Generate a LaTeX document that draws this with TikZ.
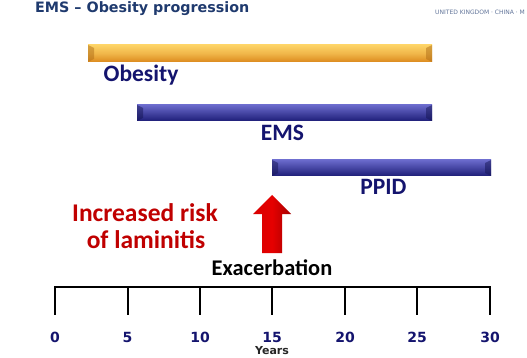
\documentclass[tikz,border=0pt]{standalone}
\usepackage{fontspec}
\setmainfont{Carlito}
\newfontfamily\tah{DejaVu Sans}
\usetikzlibrary{calc}
\definecolor{navy}{HTML}{14146E}
\definecolor{titleblue}{HTML}{1F3A6E}
\definecolor{darkred}{HTML}{C00000}
\definecolor{otop}{HTML}{FDD366}
\definecolor{obot}{HTML}{DC8A1E}
\definecolor{btop}{HTML}{6A6ACB}
\definecolor{bbot}{HTML}{1E1E78}
\tikzset{
  barbase/.style={inner sep=0pt, outer sep=0pt, draw=none, anchor=north west},
  obar/.style={barbase, top color=otop, bottom color=obot, middle color=otop!60!obot,
    path picture={
      \fill[obot!80!black, opacity=0.5] (path picture bounding box.north west) -- (path picture bounding box.south west) -- ($(path picture bounding box.south west)+(6,-3)$) -- ($(path picture bounding box.north west)+(6,3)$) -- cycle;
      \fill[obot!80!black, opacity=0.5] (path picture bounding box.north east) -- (path picture bounding box.south east) -- ($(path picture bounding box.south east)+(-6,-3)$) -- ($(path picture bounding box.north east)+(-6,3)$) -- cycle;}},
  bbar/.style={barbase, top color=btop, bottom color=bbot, middle color=btop!50!bbot,
    path picture={
      \fill[bbot!70!black, opacity=0.5] (path picture bounding box.north west) -- (path picture bounding box.south west) -- ($(path picture bounding box.south west)+(6,-3)$) -- ($(path picture bounding box.north west)+(6,3)$) -- cycle;
      \fill[bbot!70!black, opacity=0.5] (path picture bounding box.north east) -- (path picture bounding box.south east) -- ($(path picture bounding box.south east)+(-6,-3)$) -- ($(path picture bounding box.north east)+(-6,3)$) -- cycle;}},
  barlabel/.style={font=\bfseries\fontsize{23.5}{23.5}\selectfont, text=navy, inner sep=0pt},
  axisline/.style={line width=2pt, black},
  ticklabel/.style={font=\tah\bfseries\fontsize{14}{14}\selectfont, text=navy, inner sep=0pt},
}
\begin{document}
\begin{tikzpicture}[x=1pt,y=-1pt]
\useasboundingbox[fill=white] (0,0) rectangle (527,358);
% title
\node[font=\tah\bfseries\fontsize{14.3}{14.3}\selectfont, text=titleblue, anchor=west, inner sep=0pt] (title) at (35,9) {EMS – Obesity progression};
\node[font=\tah\fontsize{6}{6}\selectfont, text=titleblue!70, anchor=west, inner sep=0pt] (brand) at (435,12) {UNITED KINGDOM · CHINA · M};
% bars
\node[obar, minimum width=344pt, minimum height=17pt] (obesitybar) at (88,45) {};
\node[bbar, minimum width=295pt, minimum height=16pt] (emsbar) at (137,105) {};
\node[bbar, minimum width=219pt, minimum height=16pt] (ppidbar) at (272,160) {};
% bar labels
\node[barlabel] (obesity) at (141,75) {Obesity};
\node[barlabel] (ems) at (282.5,133) {EMS};
\node[barlabel] (ppid) at (383.5,187) {PPID};
% arrow
\shade[left color=red!85!black, right color=red!65!black, middle color=red!90!black]
  (262,253) -- (262,214) -- (253,214) -- (272,195) -- (291,214) -- (282,214) -- (282,253) -- cycle;
\coordinate (arrowtip) at (272,195);
% texts
\node[font=\bfseries\fontsize{25.5}{25.5}\selectfont, text=darkred, inner sep=0pt] (risk1) at (145,213) {Increased risk};
\node[font=\bfseries\fontsize{25.5}{25.5}\selectfont, text=darkred, inner sep=0pt] (risk2) at (146,240) {of laminitis};
\node[font=\bfseries\fontsize{22.4}{22.4}\selectfont, text=black, inner sep=0pt] (exac) at (272,268) {Exacerbation};
% axis
\coordinate (a0) at (55,287);
\coordinate (a30) at (490,287);
\draw[axisline] (a0) -- (a30);
\foreach \i/\x in {0/55,5/127.5,10/200,15/272,20/345,25/417,30/490}{
  \draw[axisline] (\x,286) -- (\x,315);
  \node[ticklabel] (t\i) at (\x,337) {\i};
}
\node[font=\tah\bfseries\fontsize{11}{11}\selectfont, text=black!85, inner sep=0pt] (years) at (272,351) {Years};
\end{tikzpicture}
\end{document}
